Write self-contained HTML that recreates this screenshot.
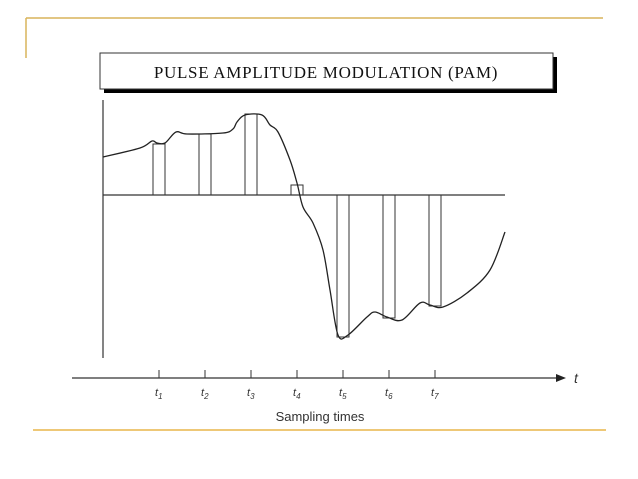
<!DOCTYPE html>
<html><head><meta charset="utf-8"><style>
html,body{margin:0;padding:0;background:#fff;}
svg{display:block;}
</style></head><body>
<svg width="638" height="479" viewBox="0 0 638 479" font-family="Liberation Sans, sans-serif">
<line x1="26" y1="18" x2="603" y2="18" stroke="#d9b45a" stroke-width="1.5"/>
<line x1="26" y1="18" x2="26" y2="58" stroke="#d9b45a" stroke-width="1.5"/>
<line x1="33" y1="430" x2="606" y2="430" stroke="#e8b54a" stroke-width="1.5"/>
<rect x="104" y="57" width="453" height="36" fill="#000"/>
<rect x="100" y="53" width="453" height="36" fill="#fff" stroke="#333" stroke-width="1"/>
<text x="326" y="78" text-anchor="middle" font-family="Liberation Serif, serif" font-size="17" fill="#111" letter-spacing="0.7">PULSE AMPLITUDE MODULATION (PAM)</text>
<line x1="103" y1="100" x2="103" y2="358" stroke="#333" stroke-width="1.2"/>
<line x1="103" y1="195" x2="505" y2="195" stroke="#333" stroke-width="1.2"/>
<line x1="72" y1="378" x2="558" y2="378" stroke="#555" stroke-width="1.5"/>
<polygon points="556,374 566,378 556,382" fill="#222"/>
<text x="574" y="383" font-size="14" font-style="italic" fill="#333">t</text>
<text x="320" y="421" text-anchor="middle" font-size="13" fill="#333">Sampling times</text>
<g id="marks"></g>
</svg>
<script>
const tickLabels = ["1","2","3","4","5","6","7"];
const sampleValues = [51, 61, 81, 10, -142, -123, -111];
const curveX = [103,140,152,157,165,176,187,223,233,237,245,262,270,278,290,297,303,313,323,330,338,348,367,375,387,402,420,430,443,467,490,505];
const curveV = [38,47,54,52,52,63,61,62,66,73,80,80,70,63,35,12,-12,-28,-55,-95,-140,-140,-122,-117,-122,-125,-108,-110,-112,-98,-75,-37];

const NS = "http://www.w3.org/2000/svg";
const g = document.getElementById("marks");
const x0 = 159, dx = 46, pw = 12;
const sx = i => x0 + i * dx;
const sy = v => 195 - v;

function mk(tag, attrs){ const e = document.createElementNS(NS, tag); for (const k in attrs) e.setAttribute(k, attrs[k]); g.appendChild(e); return e; }

sampleValues.forEach((v, i) => {
  const y = Math.min(sy(v), sy(0)), h = Math.abs(sy(v) - sy(0));
  const r = mk("rect", {x: sx(i) - pw/2, y: y, width: pw, height: h, fill: "none", stroke: "#333", "stroke-width": 1});
  
  
  const t = mk("line", {x1: sx(i), y1: 370, x2: sx(i), y2: 378, stroke: "#333", "stroke-width": 1});
  
  
  const lab = mk("text", {x: sx(i) - 4, y: 396, "font-size": 11, "font-style": "italic", fill: "#333"});
  
  
  lab.textContent = "t";
  const sub = document.createElementNS(NS, "tspan");
  sub.setAttribute("font-size", "8"); sub.setAttribute("dy", "3");
  sub.textContent = tickLabels[i];
  lab.appendChild(sub);
});

const pts = curveX.map((x, i) => [x, sy(curveV[i])]);
let d = "M" + pts[0][0] + "," + pts[0][1];
for (let i = 0; i < pts.length - 1; i++) {
  const p0 = pts[Math.max(0, i-1)], p1 = pts[i], p2 = pts[i+1], p3 = pts[Math.min(pts.length-1, i+2)];
  const c1x = p1[0] + (p2[0]-p0[0])/6, c1y = p1[1] + (p2[1]-p0[1])/6;
  const c2x = p2[0] - (p3[0]-p1[0])/6, c2y = p2[1] - (p3[1]-p1[1])/6;
  d += " C" + c1x.toFixed(1) + "," + c1y.toFixed(1) + " " + c2x.toFixed(1) + "," + c2y.toFixed(1) + " " + p2[0] + "," + p2[1];
}
const p = mk("path", {d: d, fill: "none", stroke: "#222", "stroke-width": 1.3, "stroke-linejoin": "round"});


</script>
</body></html>
